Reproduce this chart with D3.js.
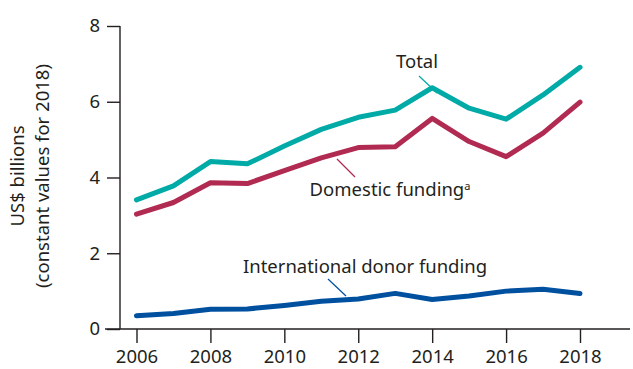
<!DOCTYPE html>
<html>
<head>
<meta charset="utf-8">
<script src="https://cdn.jsdelivr.net/npm/d3@7"></script>
<style>
  html, body { margin: 0; padding: 0; background: #fff; }
  svg { display: block; font-family: "Noto Sans", Roboto, sans-serif; }
</style>
</head>
<body>
<svg id="chart" width="633" height="369"></svg>
<script>
// Funding, US$ billions (constant 2018 values)
const years = [2006, 2007, 2008, 2009, 2010, 2011, 2012, 2013, 2014, 2015, 2016, 2017, 2018];
const total = [3.41, 3.78, 4.42, 4.36, 4.83, 5.27, 5.59, 5.78, 6.37, 5.83, 5.54, 6.18, 6.91];
const domestic = [3.03, 3.34, 3.86, 3.84, 4.18, 4.52, 4.79, 4.81, 5.56, 4.95, 4.55, 5.17, 5.99];
const international = [0.35, 0.41, 0.52, 0.53, 0.62, 0.73, 0.79, 0.94, 0.78, 0.87, 1.00, 1.05, 0.94];
const xTicks = [2006, 2008, 2010, 2012, 2014, 2016, 2018];
const yTicks = [0, 2, 4, 6, 8];

const svg = d3.select("#chart");
const x = d3.scaleLinear().domain([2006, 2018]).range([136.5, 580]);
const y = d3.scaleLinear().domain([0, 8]).range([329, 26]);
const axisColor = "#231f20";
const fontFamily = "'Noto Sans', Roboto, sans-serif";
const fontSize = "18.5px";

// y axis
const yAxis = svg.append("g").attr("transform", "translate(120,0)")
  .call(d3.axisLeft(y).tickValues(yTicks).tickSize(13).tickPadding(7).tickFormat(d3.format("d")));
yAxis.select(".domain").attr("d", `M0,${y(8)}V${y(0)}`);

// x axis
const xAxis = svg.append("g").attr("transform", `translate(0,${y(0)})`)
  .call(d3.axisBottom(x).tickValues(xTicks).tickSize(14).tickPadding(7).tickFormat(d3.format("d")));
xAxis.select(".domain").attr("d", "M105,0H630");

svg.selectAll(".domain, .tick line").attr("stroke", axisColor).attr("stroke-width", 1.4);
svg.selectAll(".tick text").attr("fill", axisColor).style("font-size", fontSize)
  .style("font-family", fontFamily);

// y axis title
const title = svg.append("text")
  .attr("transform", "translate(30,176) rotate(-90)")
  .attr("text-anchor", "middle")
  .attr("fill", axisColor)
  .style("font-size", fontSize);
title.append("tspan").attr("x", 0).attr("dy", "-0.3em").text("US$ billions");
title.append("tspan").attr("x", 0).attr("dy", "1.35em").text("(constant values for 2018)");

// series lines
const line = d3.line().x((d, i) => x(years[i])).y(d => y(d));
const series = [
  { values: international, color: "#0050a0" },
  { values: domestic, color: "#b12a52" },
  { values: total, color: "#00aaa7" }
];
svg.selectAll("path.series").data(series).join("path")
  .attr("class", "series")
  .attr("fill", "none")
  .attr("stroke", d => d.color)
  .attr("stroke-width", 5)
  .attr("stroke-linejoin", "round")
  .attr("stroke-linecap", "round")
  .attr("d", d => line(d.values));

// labels with leader lines
const labels = [
  { text: "Total", tx: 417, ty: 68, line: [419, 76, 437, 93], color: "#00aaa7" },
  { text: "Domestic funding", sup: "a", tx: 390, ty: 196, line: [337, 159, 355, 177], color: "#b12a52" },
  { text: "International donor funding", tx: 365, ty: 273, line: [328, 279, 346, 296], color: "#0050a0" }
];
labels.forEach(l => {
  svg.append("line")
    .attr("x1", l.line[0]).attr("y1", l.line[1])
    .attr("x2", l.line[2]).attr("y2", l.line[3])
    .attr("stroke", l.color).attr("stroke-width", 1.2);
  const t = svg.append("text")
    .attr("x", l.tx).attr("y", l.ty)
    .attr("text-anchor", "middle")
    .attr("fill", axisColor)
    .style("font-size", fontSize)
    .text(l.text);
  if (l.sup) {
    t.append("tspan").attr("dy", "-0.55em").style("font-size", "11px").text(l.sup);
  }
});
</script>
</body>
</html>
